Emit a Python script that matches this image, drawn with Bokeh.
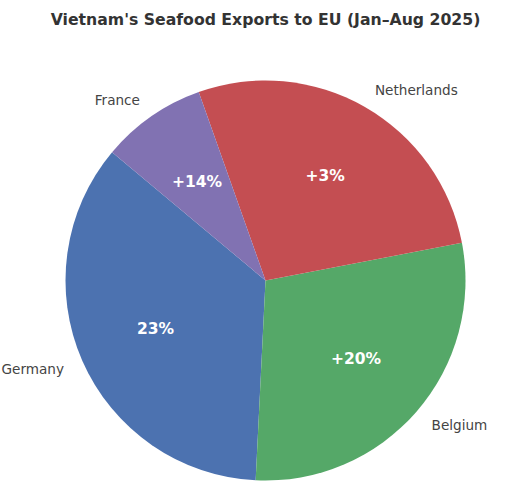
import math
from bokeh.plotting import figure
from bokeh.models import Range1d, ColumnDataSource
from bokeh.core.properties import value
from bokeh.embed import file_html
from bokeh.resources import INLINE

title = "Vietnam's Seafood Exports to EU (Jan\u2013Aug 2025)"
countries = ["Germany", "Belgium", "Netherlands", "France"]
shares = [35.3, 28.8, 27.4, 8.5]
growth_labels = ["23%", "+20%", "+3%", "+14%"]
colors = ["#4C72B0", "#55A868", "#C44E52", "#8172B2"]
start_angle_deg = 140.1

total = sum(shares)
starts, ends, mids = [], [], []
a = start_angle_deg
for s in shares:
    span = s / total * 360.0
    starts.append(math.radians(a))
    ends.append(math.radians(a + span))
    mids.append(math.radians(a + span / 2))
    a += span

W, H = 523, 489
scale = 200.0  # px per unit radius
cx, cy = 265.0, 280.0  # pie centre within frame (px)
x0 = -cx / scale
x1 = (W - cx) / scale
y1 = cy / scale
y0 = -(H - cy) / scale

p = figure(width=W, height=H, output_backend="svg", toolbar_location=None,
           x_range=Range1d(x0, x1), y_range=Range1d(y0, y1),
           min_border=0)
p.axis.visible = False
p.grid.visible = False
p.outline_line_color = None
p.background_fill_color = "white"

src = ColumnDataSource(dict(start=starts, end=ends, color=colors))
p.wedge(x=0, y=0, radius=1.0, start_angle="start", end_angle="end",
        fill_color="color", line_color=None, source=src)

# inner growth labels
ix = [0.6 * math.cos(m) for m in mids]
iy = [0.6 * math.sin(m) for m in mids]
p.text(x=ix, y=iy, text=growth_labels, text_color="white",
       text_font=value("DejaVu Sans"), text_font_style="bold",
       text_font_size="15.5px", text_align="center", text_baseline="middle")

# outer country labels
ox = [1.1 * math.cos(m) for m in mids]
oy = [1.1 * math.sin(m) for m in mids]
aligns = ["left" if math.cos(m) >= 0 else "right" for m in mids]
p.text(x=ox, y=oy, text=countries, text_color="#444444",
       text_font=value("DejaVu Sans"), text_font_size="13.6px",
       text_align=aligns, text_baseline="middle")

# title
p.text(x=[0.0], y=[(cy - 19) / scale], text=[title], text_color="#333333",
       text_font=value("DejaVu Sans"), text_font_style="bold",
       text_font_size="15.7px", text_align="center", text_baseline="middle")

open("out.html", "w").write(file_html(p, INLINE))
